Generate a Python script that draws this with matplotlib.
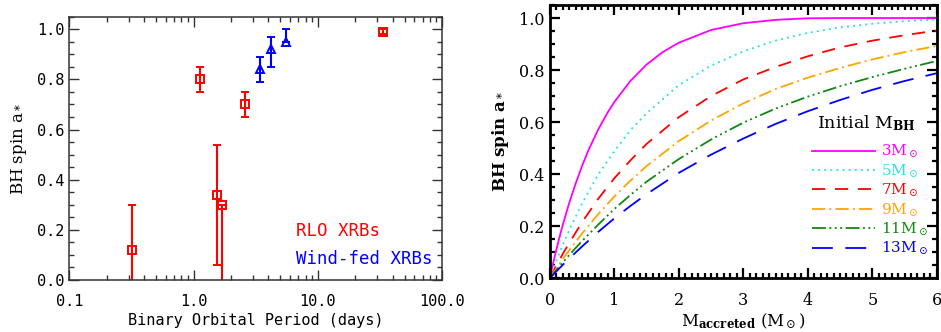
import matplotlib.pyplot as plt
from matplotlib.ticker import MultipleLocator, LogLocator, FixedLocator, FixedFormatter, NullFormatter

plt.rcParams['mathtext.fontset'] = 'dejavuserif'
plt.rcParams['lines.scale_dashes'] = False

# -------------------------------
# Left panel: measured spins
# -------------------------------
rlo_period = [0.32, 1.12, 1.54, 1.71, 2.6, 33.5]
rlo_spin = [0.12, 0.80, 0.34, 0.30, 0.70, 0.99]
rlo_err_lo = [0.20, 0.05, 0.28, 0.40, 0.05, 0.01]
rlo_err_hi = [0.18, 0.05, 0.20, 0.00, 0.05, 0.01]

wind_period = [3.45, 4.23, 5.6]
wind_spin = [0.84, 0.92, 0.95]
wind_err_lo = [0.05, 0.07, 0.00]
wind_err_hi = [0.05, 0.05, 0.05]

period_ticks = [0.1, 1.0, 10.0, 100.0]
period_labels = ['0.1', '1.0', '10.0', '100.0']

# -------------------------------
# Right panel: spin-up tracks
# -------------------------------
# the 3 Msun track rises fast, so it is sampled more finely
m_acc_3 = [0, 0.02, 0.05, 0.1, 0.15, 0.2, 0.25, 0.3, 0.4, 0.5, 0.6, 0.75, 0.9, 1, 1.25, 1.5, 1.75,
           2, 2.5, 3, 3.5, 4, 4.5, 5, 6]
spin_3 = [0, 0.022, 0.055, 0.107, 0.157, 0.203, 0.246, 0.288, 0.363, 0.431, 0.492, 0.571, 0.638,
          0.677, 0.758, 0.821, 0.869, 0.905, 0.954, 0.980, 0.993, 0.999, 1.0, 1.0, 1.0]

m_acc = [0, 0.05, 0.1, 0.2, 0.3, 0.5, 0.75, 1, 1.25, 1.5, 2, 2.5, 3, 3.5, 4, 4.5, 5, 5.5, 6]
spin_5 = [0, 0.034, 0.066, 0.127, 0.184, 0.287, 0.398, 0.488, 0.569, 0.634, 0.742, 0.817, 0.872, 0.913, 0.943, 0.964, 0.978, 0.988, 0.994]
spin_7 = [0, 0.024, 0.048, 0.093, 0.135, 0.215, 0.305, 0.384, 0.453, 0.516, 0.619, 0.700, 0.764, 0.812, 0.853, 0.887, 0.913, 0.934, 0.952]
spin_9 = [0, 0.019, 0.037, 0.073, 0.107, 0.172, 0.246, 0.314, 0.375, 0.431, 0.527, 0.606, 0.672, 0.727, 0.771, 0.808, 0.841, 0.869, 0.893]
spin_11 = [0, 0.015, 0.031, 0.060, 0.089, 0.143, 0.206, 0.266, 0.320, 0.371, 0.458, 0.533, 0.598, 0.652, 0.698, 0.738, 0.773, 0.805, 0.835]
spin_13 = [0, 0.013, 0.026, 0.051, 0.076, 0.122, 0.178, 0.230, 0.278, 0.323, 0.405, 0.475, 0.537, 0.593, 0.642, 0.685, 0.724, 0.758, 0.788]

track_labels = ['3M$_\\odot$', '5M$_\\odot$', '7M$_\\odot$', '9M$_\\odot$', '11M$_\\odot$', '13M$_\\odot$']
track_colors = ['#ff00ff', '#22e6e6', '#ff0000', '#ffa500', '#118811', '#0000ff']
track_styles = ['-', (0, (1.4, 3.0)), (0, (9.5, 7.0)), (0, (9.5, 3.0, 1.4, 3.0)),
                (0, (10, 2.5, 1.4, 2.5, 1.4, 2.5, 1.4, 2.5)), (0, (15, 9))]

fig = plt.figure(figsize=(9.41, 3.32), dpi=100)

# -------------------------------
# Left panel
# -------------------------------
ax1 = fig.add_axes([0.0736, 0.1566, 0.3961, 0.7931])
ax1.errorbar(rlo_period, rlo_spin, yerr=[rlo_err_lo, rlo_err_hi], fmt='s', color='red',
             mfc='none', mec='red', ms=5.5, mew=1.4, elinewidth=1.5, capsize=2.6, capthick=1.5)
ax1.errorbar(wind_period, wind_spin, yerr=[wind_err_lo, wind_err_hi], fmt='^', color='blue',
             mfc='none', mec='blue', ms=6, mew=1.4, elinewidth=1.5, capsize=2.6, capthick=1.5)

ax1.set_xscale('log')
ax1.set_xlim(0.1, 100)
ax1.set_ylim(0, 1.05)
ax1.xaxis.set_major_locator(FixedLocator(period_ticks))
ax1.xaxis.set_major_formatter(FixedFormatter(period_labels))
ax1.xaxis.set_minor_locator(LogLocator(base=10, subs=range(2, 10)))
ax1.xaxis.set_minor_formatter(NullFormatter())
ax1.yaxis.set_major_locator(MultipleLocator(0.2))
ax1.yaxis.set_minor_locator(MultipleLocator(0.05))
ax1.yaxis.set_major_formatter(lambda v, p: f'{v:.1f}')
ax1.tick_params(which='both', direction='in', top=True, right=True, width=1, color='#333333')
ax1.tick_params(which='major', length=7)
ax1.tick_params(which='minor', length=3.5)
ax1.tick_params(axis='x', pad=10)
for lab in ax1.get_xticklabels() + ax1.get_yticklabels():
    lab.set_family('DejaVu Sans Mono')
    lab.set_fontsize(11)
for sp in ax1.spines.values():
    sp.set_linewidth(1.1)
    sp.set_color('#333333')

ax1.set_xlabel('Binary Orbital Period (days)', family='DejaVu Sans Mono', fontsize=11, labelpad=3)
ax1.set_ylabel('BH spin a$_*$', family='DejaVu Serif', fontsize=12, labelpad=6)
ax1.text(0.608, 0.186, 'RLO XRBs', color='red', family='DejaVu Sans Mono', fontsize=12.5,
         transform=ax1.transAxes, va='center')
ax1.text(0.608, 0.080, 'Wind-fed XRBs', color='blue', family='DejaVu Sans Mono', fontsize=12.5,
         transform=ax1.transAxes, va='center')

# -------------------------------
# Right panel
# -------------------------------
ax2 = fig.add_axes([0.5842, 0.1617, 0.4113, 0.8232])
tracks = [spin_3, spin_5, spin_7, spin_9, spin_11, spin_13]
for i, (spin, lab, col, ls) in enumerate(zip(tracks, track_labels, track_colors, track_styles)):
    xs = m_acc_3 if i == 0 else m_acc
    ax2.plot(xs, spin, color=col, ls=ls, lw=1.3, label=lab)

ax2.set_xlim(0, 6)
ax2.set_ylim(0, 1.05)
ax2.xaxis.set_major_locator(MultipleLocator(1))
ax2.xaxis.set_minor_locator(MultipleLocator(0.1))
ax2.yaxis.set_major_locator(MultipleLocator(0.2))
ax2.yaxis.set_minor_locator(MultipleLocator(0.05))
ax2.yaxis.set_major_formatter(lambda v, p: f'{v:.1f}')
ax2.tick_params(which='both', direction='in', top=True, right=True, width=1.6)
ax2.tick_params(which='major', length=7)
ax2.tick_params(which='minor', length=3.5)
ax2.tick_params(axis='x', pad=10)
for lab in ax2.get_xticklabels() + ax2.get_yticklabels():
    lab.set_family('DejaVu Serif')
    lab.set_fontsize(11.5)
for sp in ax2.spines.values():
    sp.set_linewidth(2)

ax2.set_xlabel('M$_{\\mathbf{accreted}}$ (M$_\\odot$)', family='DejaVu Serif', fontsize=12, labelpad=2)
ax2.set_ylabel('BH spin a$_*$', family='DejaVu Serif', fontweight='bold', fontsize=12, labelpad=6)

ax2.text(0.691, 0.568, 'Initial M$_{\\mathbf{BH}}$', family='DejaVu Serif', fontsize=12.5,
         transform=ax2.transAxes, va='center')
leg = ax2.legend(loc='upper left', bbox_to_anchor=(0.678, 0.495), frameon=False,
                 prop={'family': 'DejaVu Serif', 'size': 11}, labelcolor='linecolor',
                 handlelength=4.1, handletextpad=0.4, labelspacing=0.13,
                 borderpad=0, borderaxespad=0)

fig.savefig('out.png', dpi=100)
